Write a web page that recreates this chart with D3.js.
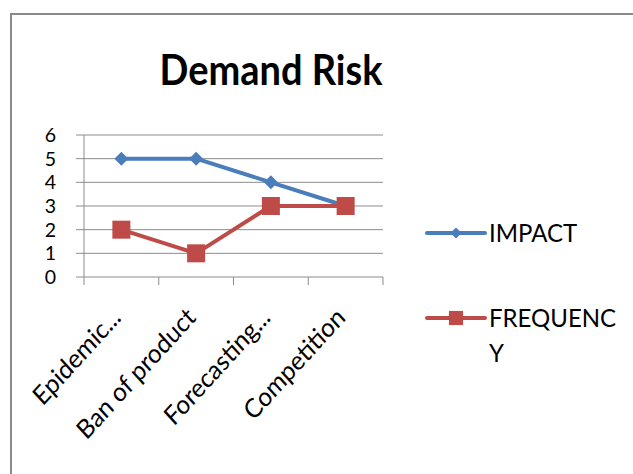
<!DOCTYPE html>
<html>
<head>
<meta charset="utf-8">
<script src="https://cdn.jsdelivr.net/npm/d3@7"></script>
<style>
  html, body { margin: 0; padding: 0; background: #fff; }
  svg { display: block; }
  text { font-family: Lato, "Open Sans", sans-serif; fill: #000; }
</style>
</head>
<body>
<svg id="chart" width="633" height="474"></svg>
<script>
// Chart data
const categories = ["Epidemic...", "Ban of product", "Forecasting...", "Competition"];
const impact = [5, 5, 4, 3];
const frequency = [2, 1, 3, 3];
const yTicks = [0, 1, 2, 3, 4, 5, 6];
const title = "Demand Risk";

const svg = d3.select("#chart");

// Outer chart frame
svg.append("rect")
  .attr("x", 11).attr("y", 14)
  .attr("width", 640).attr("height", 480)
  .attr("fill", "#fff")
  .attr("stroke", "#8a8a8a").attr("stroke-width", 2);

// Title
svg.append("text")
  .attr("transform", "translate(271,85) scale(1,1.08)")
  .attr("text-anchor", "middle")
  .attr("font-weight", "bold")
  .attr("font-size", 38)
  .text(title);

const plot = { left: 84, right: 383, top: 135, bottom: 277 };

const x = d3.scalePoint().domain(categories).range([plot.left, plot.right]).padding(0.5);
const xBand = d3.scaleBand().domain(categories).range([plot.left, plot.right]);
const y = d3.scaleLinear().domain([0, 6]).range([plot.bottom, plot.top]);

// Horizontal gridlines
svg.append("g").selectAll("line").data(yTicks).join("line")
  .attr("x1", plot.left - 8).attr("x2", plot.right)
  .attr("y1", d => y(d)).attr("y2", d => y(d))
  .attr("stroke", "#8c8c8c").attr("stroke-width", 1);

// Vertical axis line
svg.append("line")
  .attr("x1", plot.left).attr("x2", plot.left)
  .attr("y1", plot.top).attr("y2", plot.bottom)
  .attr("stroke", "#8c8c8c");

// Category tick marks
const tickXs = categories.map(c => xBand(c)).concat([plot.right]);
svg.append("g").selectAll("line").data(tickXs).join("line")
  .attr("x1", d => d).attr("x2", d => d)
  .attr("y1", plot.bottom).attr("y2", plot.bottom + 8)
  .attr("stroke", "#8c8c8c");

// Y tick labels
svg.append("g").selectAll("text").data(yTicks).join("text")
  .attr("x", 56).attr("y", d => y(d) + 7)
  .attr("text-anchor", "end")
  .attr("font-size", 19.5)
  .text(d => d);

// Rotated category labels
svg.append("g").selectAll("text").data(categories).join("text")
  .attr("transform", d => `translate(${x(d) + 1},${plot.bottom + 42}) scale(1,1.1) rotate(-45)`)
  .attr("text-anchor", "end")
  .attr("font-size", 24)
  .text(d => d);

// Series lines and markers
const line = d3.line().x((d, i) => x(categories[i])).y(d => y(d));
const blue = "#4a7ebb", red = "#be4b48";

svg.append("path").datum(impact)
  .attr("d", line).attr("fill", "none")
  .attr("stroke", blue).attr("stroke-width", 4).attr("stroke-linejoin", "round");
svg.append("path").datum(frequency)
  .attr("d", line).attr("fill", "none")
  .attr("stroke", red).attr("stroke-width", 4).attr("stroke-linejoin", "round");

const diamond = d3.symbol().type(d3.symbolDiamond2).size(125);
const square = d3.symbol().type(d3.symbolSquare).size(324);

svg.append("g").selectAll("path").data(impact).join("path")
  .attr("transform", (d, i) => `translate(${x(categories[i])},${y(d)})`)
  .attr("d", diamond).attr("fill", blue);
svg.append("g").selectAll("path").data(frequency).join("path")
  .attr("transform", (d, i) => `translate(${x(categories[i])},${y(d)})`)
  .attr("d", square).attr("fill", red);

// Legend
const legend = svg.append("g");
const legendRows = [
  { name: "IMPACT", color: blue, marker: d3.symbol().type(d3.symbolDiamond2).size(80), y: 233 },
  { name: "FREQUENC", extra: "Y", color: red, marker: d3.symbol().type(d3.symbolSquare).size(200), y: 318 }
];
legendRows.forEach(r => {
  legend.append("line")
    .attr("x1", 427).attr("x2", 485).attr("y1", r.y).attr("y2", r.y)
    .attr("stroke", r.color).attr("stroke-width", 4).attr("stroke-linecap", "round");
  legend.append("path")
    .attr("transform", `translate(456,${r.y})`)
    .attr("d", r.marker).attr("fill", r.color);
  legend.append("text")
    .attr("transform", `translate(489,${r.y + 9}) scale(1,1.05)`)
    .attr("font-size", 24)
    .text(r.name);
  if (r.extra) {
    legend.append("text")
      .attr("transform", `translate(489,${r.y + 44}) scale(1,1.05)`)
      .attr("font-size", 24)
      .text(r.extra);
  }
});
</script>
</body>
</html>
